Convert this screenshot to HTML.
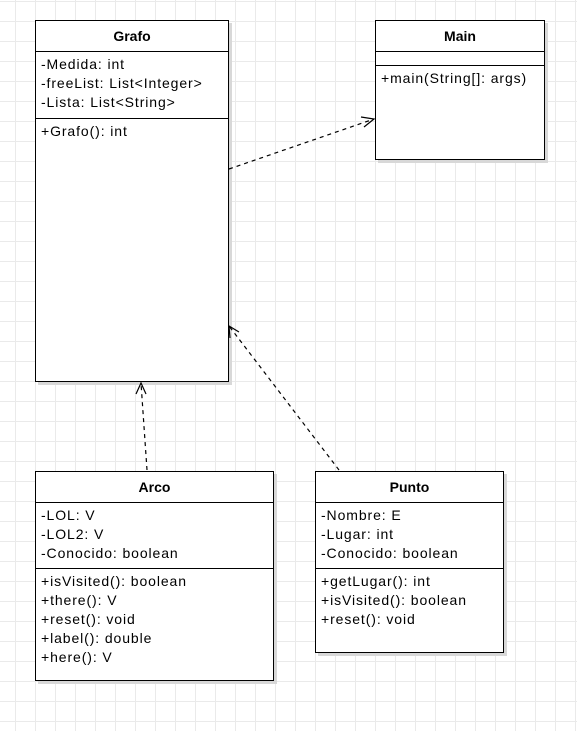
<!DOCTYPE html>
<html><head><style>
html,body{margin:0;padding:0}
body{width:577px;height:731px;position:relative;overflow:hidden;background-color:#fff;
background-image:linear-gradient(#eaeaea 1px,transparent 1px),linear-gradient(90deg,#eaeaea 1px,transparent 1px);
background-size:20px 20px;background-position:0 1px,15px 0;font-family:"Liberation Sans",sans-serif;font-size:14px;color:#000}
.box{position:absolute;background:#fff;border:1px solid #000;box-sizing:border-box;box-shadow:3px 3px 0 #d8d8d8}
.h{font-weight:bold;text-align:center;border-bottom:1px solid #000;box-sizing:border-box;line-height:30px;height:31px}
.s{border-bottom:1px solid #000;box-sizing:border-box;padding:3px 0 0 5px;line-height:19px;letter-spacing:0.9px;white-space:nowrap}
.m{padding:3px 0 0 5px;line-height:19px;letter-spacing:0.9px;white-space:nowrap}
svg{position:absolute;left:0;top:0}
</style></head><body>
<div class="box" style="left:35px;top:20px;width:194px;height:362px">
<div class="h">Grafo</div>
<div class="s" style="height:67px">-Medida: int<br>-freeList: List&lt;Integer&gt;<br>-Lista: List&lt;String&gt;</div>
<div class="m">+Grafo(): int</div></div>
<div class="box" style="left:375px;top:20px;width:170px;height:140px">
<div class="h">Main</div>
<div class="s" style="height:14px;padding:0"></div>
<div class="m">+main(String[]: args)</div></div>
<div class="box" style="left:35px;top:471px;width:239px;height:210px">
<div class="h">Arco</div>
<div class="s" style="height:66px">-LOL: V<br>-LOL2: V<br>-Conocido: boolean</div>
<div class="m">+isVisited(): boolean<br>+there(): V<br>+reset(): void<br>+label(): double<br>+here(): V</div></div>
<div class="box" style="left:315px;top:471px;width:189px;height:182px">
<div class="h">Punto</div>
<div class="s" style="height:66px">-Nombre: E<br>-Lugar: int<br>-Conocido: boolean</div>
<div class="m">+getLugar(): int<br>+isVisited(): boolean<br>+reset(): void</div></div>
<svg width="577" height="731">
<g stroke="#000" fill="none" stroke-width="1.2">
<line x1="229" y1="169" x2="374" y2="119" stroke-dasharray="4,4"/>
<polyline points="361,117 374,119 364,127"/>
<line x1="147" y1="470" x2="141" y2="383" stroke-dasharray="4,4"/>
<polyline points="136,394 141,383 146,394"/>
<line x1="339" y1="470" x2="229" y2="326" stroke-dasharray="4,4"/>
<polyline points="230,338 229,326 239,332"/>
</g></svg>
</body></html>
